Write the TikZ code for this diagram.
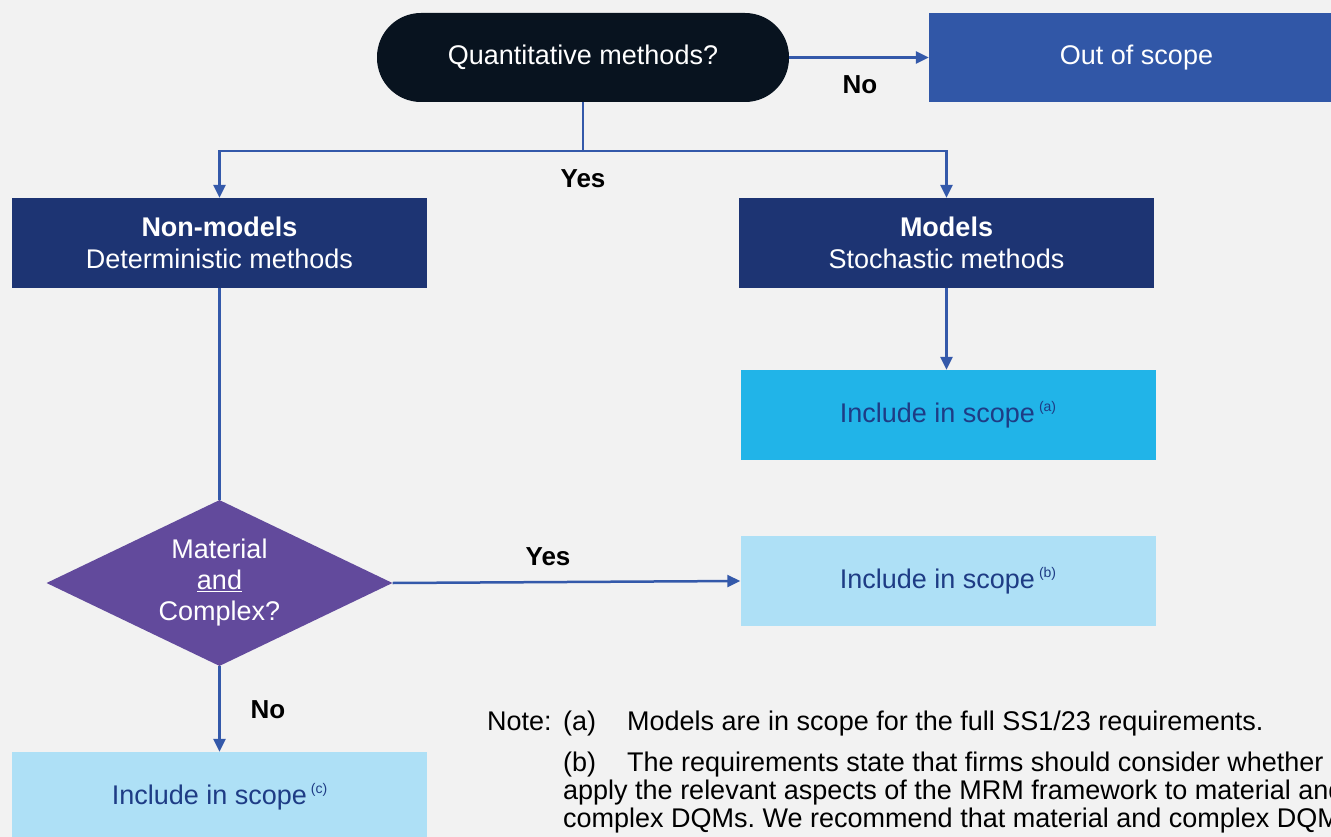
\documentclass[tikz,border=0pt]{standalone}
\usepackage{fontspec}
\setmainfont{Liberation Sans}
\usetikzlibrary{arrows.meta,shapes.geometric}
\definecolor{bgc}{HTML}{F2F2F2}
\definecolor{termc}{HTML}{08131F}
\definecolor{outc}{HTML}{3157A7}
\definecolor{navyc}{HTML}{1D3473}
\definecolor{cyanc}{HTML}{21B4E8}
\definecolor{lightc}{HTML}{AEE0F6}
\definecolor{purplec}{HTML}{624A9C}
\definecolor{linec}{HTML}{3459AA}
\definecolor{inctext}{HTML}{1E3C85}
\newcommand\supnote[1]{\hspace{4pt}\raisebox{11pt}{\fontsize{14}{14}\selectfont(#1)}}
\frenchspacing
\begin{document}
\begin{tikzpicture}[x=1pt,y=-1pt,
  box/.style={rectangle, minimum width=415pt, minimum height=90pt, inner sep=0pt, align=center, font=\fontsize{27}{32}\selectfont},
  conn/.style={draw=linec, line width=2.5pt},
  arr/.style={conn, -{Triangle[length=13pt,width=12pt]}},
  lbl/.style={font=\fontsize{26}{30}\selectfont\bfseries, inner sep=0pt},
  notetxt/.style={anchor=base west, inner sep=0pt, font=\fontsize{27}{30}\selectfont}]
\useasboundingbox (0,0) rectangle (1331,837);
\fill[bgc] (0,0) rectangle (1331,837);
\begin{scope}
\clip (0,0) rectangle (1331,837);
% nodes
\node[box, fill=termc, text=white, minimum width=412pt, minimum height=89pt, rounded corners=44pt] (term) at (583,57.5) {Quantitative methods?};
\node[box, fill=outc, text=white, minimum height=89pt] (out) at (1136.5,57.5) {Out of scope};
\node[box, fill=navyc, text=white] (nonm) at (219.5,243) {\textbf{Non-models}\\Deterministic methods};
\node[box, fill=navyc, text=white] (models) at (946.5,243) {\textbf{Models}\\Stochastic methods};
\node[box, fill=cyanc, text=inctext] (incA) at (948,415) {Include in scope\supnote{a}};
\node[box, fill=lightc, text=inctext] (incB) at (948,581) {Include in scope\supnote{b}};
\node[box, fill=lightc, text=inctext] (incC) at (219.5,797) {Include in scope\supnote{c}};
\node[diamond, fill=purplec, text=white, minimum width=346pt, minimum height=166pt, inner sep=0pt, aspect=2.08, align=center, font=\fontsize{27}{31}\selectfont] (dia) at (219.5,583) {\rule{0pt}{4pt}Material\\\underline{and}\\Complex?};
\coordinate (split) at (583,151);
% connectors
\draw[arr] (term.east) -- (out.west);
\node[lbl] (lno1) at (860,85) {No};
\draw[conn] (term.south) -- (split);
\draw[arr] (split) -| (nonm.north);
\draw[arr] (split) -| (models.north);
\node[lbl] (lyes1) at (583,179) {Yes};
\draw[arr] (models.south) -- (models.south |- incA.north);
\draw[conn] (nonm.south) -- (dia.north);
\draw[arr] (dia.east) -- (incB.west);
\node[lbl] (lyes2) at (548,557) {Yes};
\draw[arr] (dia.south) -- (incC.north);
\node[lbl] (lno2) at (268,710) {No};
% note
\node[notetxt] (n0) at (487,730) {Note:};
\node[notetxt] (n1) at (563,730) {(a)};
\node[notetxt] (n2) at (627,730) {Models are in scope for the full SS1/23 requirements.};
\node[notetxt] (n3) at (563,771) {(b)};
\node[notetxt] (n4) at (627,771) {The requirements state that firms should consider whether};
\node[notetxt] (n5) at (563,799) {apply the relevant aspects of the MRM framework to material and};
\node[notetxt] (n6) at (563,827) {complex DQMs. We recommend that material and complex DQMs};
\end{scope}
\end{tikzpicture}
\end{document}
